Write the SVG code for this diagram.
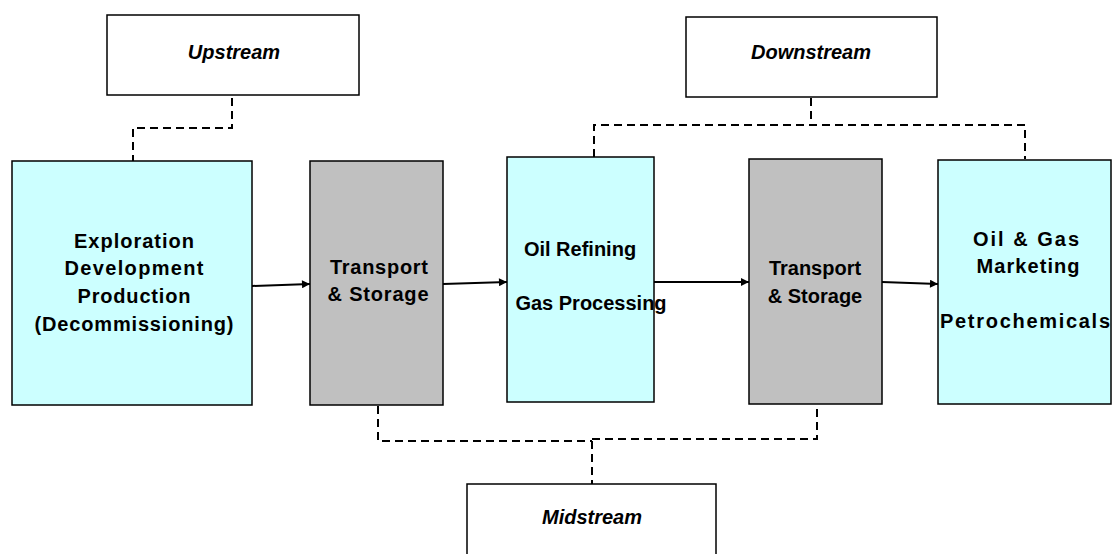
<svg xmlns="http://www.w3.org/2000/svg" width="1112" height="554" viewBox="0 0 1112 554">
  <defs>
    <marker id="arrow" viewBox="0 0 10 10" refX="10" refY="5" markerWidth="10" markerHeight="8" markerUnits="userSpaceOnUse" orient="auto">
      <path d="M0,0 L10,5 L0,10 z" fill="#000"/>
    </marker>
    <style>
      .stage { fill: #CCFFFF; stroke: #000; stroke-width: 1.5; }
      .store { fill: #C0C0C0; stroke: #000; stroke-width: 1.5; }
      .seg { fill: #FFFFFF; stroke: #000; stroke-width: 1.5; }
      .lbl { font-family: "Liberation Sans", Arial, sans-serif; font-size: 20px; font-weight: bold; fill: #000; text-anchor: middle; }
      .seglbl { font-family: "Liberation Sans", Arial, sans-serif; font-size: 20px; font-weight: bold; font-style: italic; fill: #000; text-anchor: middle; }
      .flow { fill: none; stroke: #000; stroke-width: 2; marker-end: url(#arrow); }
      .link { fill: none; stroke: #000; stroke-width: 2; stroke-dasharray: 8 5; }
    </style>
  </defs>

  <rect width="1112" height="554" fill="#FFFFFF"/>

  <!-- segment grouping links and process flow -->
  <g id="connectors">
    <path class="link" d="M232,98 V128 H133 V161"/>
    <path class="link" d="M811,98 V125 M594,157 V125 H1025 V159"/>
    <path class="link" d="M378,406 V441 H592 M592,439 H817 V405 M592,441 V484"/>
    <line class="flow" x1="252" y1="286" x2="310" y2="284"/>
    <line class="flow" x1="443" y1="284" x2="507" y2="282"/>
    <line class="flow" x1="654" y1="282" x2="749" y2="282"/>
    <line class="flow" x1="882" y1="282" x2="938" y2="284"/>
  </g>

  <g id="upstream">
    <rect class="seg" x="107" y="15" width="252" height="80"/>
    <text class="seglbl" x="234" y="59">Upstream</text>
  </g>

  <g id="downstream">
    <rect class="seg" x="686" y="17" width="251" height="80"/>
    <text class="seglbl" x="811" y="59">Downstream</text>
  </g>

  <g id="midstream">
    <rect class="seg" x="467" y="484" width="249" height="90"/>
    <text class="seglbl" x="592" y="524">Midstream</text>
  </g>

  <g id="exploration">
    <rect class="stage" x="12" y="161" width="240" height="244"/>
    <text class="lbl" x="134" y="248" textLength="120" lengthAdjust="spacing">Exploration</text>
    <text class="lbl" x="134" y="275" textLength="139" lengthAdjust="spacing">Development</text>
    <text class="lbl" x="134" y="303" textLength="113" lengthAdjust="spacing">Production</text>
    <text class="lbl" x="134" y="331" textLength="199" lengthAdjust="spacing">(Decommissioning)</text>
  </g>

  <g id="transport-1">
    <rect class="store" x="310" y="161" width="133" height="244"/>
    <text class="lbl" x="379" y="274" textLength="98" lengthAdjust="spacing">Transport</text>
    <text class="lbl" x="378" y="301" textLength="101" lengthAdjust="spacing">&amp; Storage</text>
  </g>

  <g id="refining">
    <rect class="stage" x="507" y="157" width="147" height="245"/>
    <text class="lbl" x="580" y="256">Oil Refining</text>
    <text class="lbl" x="591" y="310">Gas Processing</text>
  </g>

  <g id="transport-2">
    <rect class="store" x="749" y="159" width="133" height="245"/>
    <text class="lbl" x="815" y="275">Transport</text>
    <text class="lbl" x="815" y="303">&amp; Storage</text>
  </g>

  <g id="marketing">
    <rect class="stage" x="938" y="160" width="173" height="244"/>
    <text class="lbl" x="1026" y="246" textLength="106" lengthAdjust="spacing">Oil &amp; Gas</text>
    <text class="lbl" x="1028" y="273" textLength="103" lengthAdjust="spacing">Marketing</text>
    <text class="lbl" x="1025" y="328" textLength="170" lengthAdjust="spacing">Petrochemicals</text>
  </g>
</svg>
